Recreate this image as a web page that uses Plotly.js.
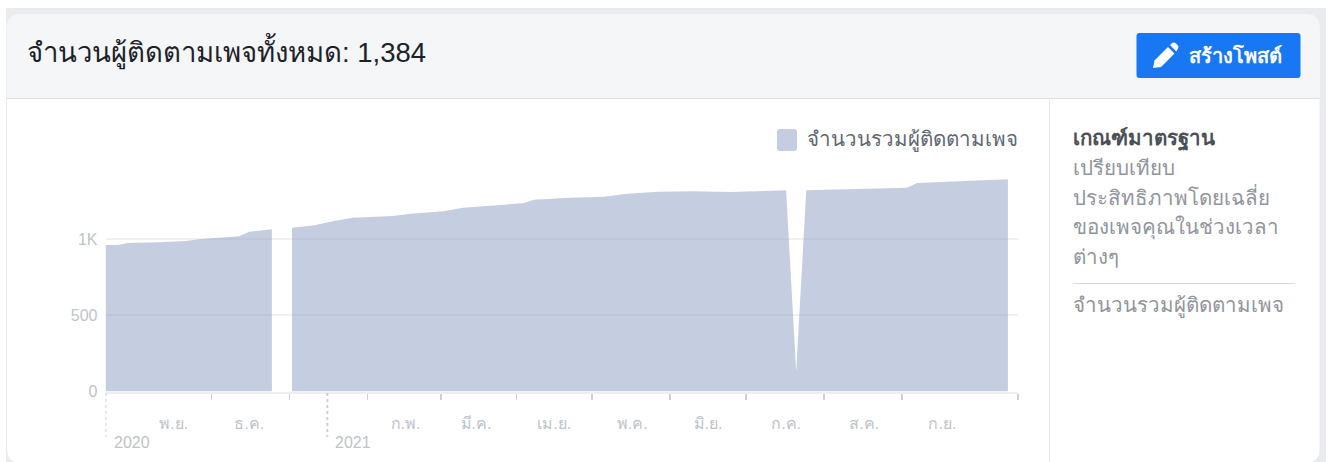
<!DOCTYPE html>
<html>
<head>
<meta charset="utf-8">
<script src="https://cdn.plot.ly/plotly-3.0.1.min.js"></script>
<style>html,body{margin:0;padding:0;background:#fff;overflow:hidden}#c{width:1333px;height:462px}</style>
</head>
<body>
<div id="c"></div>
<script>
// ---- data ----
const datesBeforeGap = ['2020-10-20','2020-10-25','2020-10-29','2020-11-10','2020-11-21','2020-11-26','2020-12-12','2020-12-16','2020-12-25'];
const followersBeforeGap = [962,963,976,980,989,1000,1020,1050,1066];
const datesAfterGap = ['2021-01-02','2021-01-11','2021-01-18','2021-01-26','2021-02-11','2021-02-18','2021-03-03','2021-03-11','2021-04-04','2021-04-08','2021-04-20','2021-05-06','2021-05-14','2021-05-27','2021-06-10','2021-06-25','2021-07-17','2021-07-21','2021-07-25','2021-09-03','2021-09-07','2021-10-13'];
const followersAfterGap = [1076,1092,1118,1142,1153,1168,1184,1208,1238,1260,1271,1280,1298,1313,1315,1311,1322,130,1322,1339,1370,1394];
const monthLabelDates = ['2020-11-16','2020-12-16','2021-02-16','2021-03-16','2021-04-16','2021-05-17','2021-06-16','2021-07-17','2021-08-17','2021-09-17'];
const monthLabels = ['พ.ย.','ธ.ค.','ก.พ.','มี.ค.','เม.ย.','พ.ค.','มิ.ย.','ก.ค.','ส.ค.','ก.ย.'];
const monthTickDates = ['2020-12-01','2021-01-01','2021-02-01','2021-03-02','2021-04-01','2021-05-01','2021-06-01','2021-07-01','2021-08-01','2021-09-01','2021-10-17'];
const yearDates = ['2020-10-20','2021-01-16'];
const yearLabels = ['2020','2021'];
const yTicks = [0,500,1000];
const yTickLabels = ['0','500','1K'];
const xRange = ['2020-10-20','2021-10-17'];
const titleText = 'จำนวนผู้ติดตามเพจทั้งหมด: 1,384';
const buttonText = 'สร้างโพสต์';
const legendText = 'จำนวนรวมผู้ติดตามเพจ';
const sideHead = 'เกณฑ์มาตรฐาน';
const sideLines = ['เปรียบเทียบ','ประสิทธิภาพโดยเฉลี่ย','ของเพจคุณในช่วงเวลา','ต่างๆ'];

// ---- layout helpers ----
const W = 1333, H = 462;
const px = x => x / W, py = y => 1 - y / H;
const FONT = '"Liberation Sans", Arial, "Noto Sans", sans-serif';
const AREA = 'rgba(139,157,195,0.5)';
const rect = (x0, y0, x1, y1, fill) => ({type:'rect',xref:'paper',yref:'paper',x0:px(x0),x1:px(x1),y0:py(y1),y1:py(y0),fillcolor:fill,line:{width:0},layer:'below'});
const pth = (d, fill, layer) => ({type:'path',xref:'paper',yref:'paper',path:d(),fillcolor:fill,line:{width:0},layer:layer||'below'});
const P = (x,y) => px(x)+' '+py(y);
function round(x0,y0,x1,y1,rt,rb){
  return 'M'+P(x0+rt,y0)+' L'+P(x1-rt,y0)+' Q'+P(x1,y0)+' '+P(x1,y0+rt)+' L'+P(x1,y1-rb)+' Q'+P(x1,y1)+' '+P(x1-rb,y1)+' L'+P(x0+rb,y1)+' Q'+P(x0,y1)+' '+P(x0,y1-rb)+' L'+P(x0,y0+rt)+' Q'+P(x0,y0)+' '+P(x0+rt,y0)+' Z';
}
const txt = (x,y,text,size,color,anchor,bold) => ({xref:'paper',yref:'paper',x:px(x-2.5),y:py(y),xanchor:anchor||'left',yanchor:'middle',showarrow:false,text:bold?'<b>'+text+'</b>':text,font:{family:FONT,size:size,color:color}});

const shapes = [
  rect(6,8,1326,462,'#e9ebee'),
  pth(()=>round(7,14,1319.5,463,14,14),'#ffffff'),
  pth(()=>'M'+P(7,98)+' L'+P(7,28)+' Q'+P(7,14)+' '+P(21,14)+' L'+P(1305.5,14)+' Q'+P(1319.5,14)+' '+P(1319.5,28)+' L'+P(1319.5,98)+' Z','#f5f6f7'),
  rect(7,98,1319.5,99,'#dddfe2'),
  rect(1049,99,1050,462,'#e4e6e9'),
  rect(1073,283,1295,284,'#d6d8dc'),
  pth(()=>round(1136.5,33,1300.5,78,3,3),'#1877f2'),
  pth(()=>'M'+P(1153,68)+' L'+P(1154.5,60.5)+' L'+P(1168,47)+' L'+P(1174.5,53.5)+' L'+P(1161,67)+' Z','#ffffff','above'),
  pth(()=>'M'+P(1170,45)+' L'+P(1172.5,42.8)+' Q'+P(1174.5,42)+' '+P(1176,43.5)+' L'+P(1178,45.5)+' Q'+P(1179,47)+' '+P(1178,48.5)+' L'+P(1176.3,51.5)+' Z','#ffffff','above'),
  pth(()=>round(777,129,797,151,3,3),'#c5cee1'),
  ...yearDates.map(d=>({type:'line',xref:'x',yref:'paper',x0:d,x1:d,y0:py(393),y1:py(437),line:{color:'#ccd0d5',width:2,dash:'3px,3px'},layer:'above'}))
];

const annotations = [
  txt(27,52,titleText,27.5,'#1d2129'),
  txt(1189,55,buttonText,20,'#ffffff','left',true),
  txt(807,140,legendText,20.5,'#606770'),
  txt(1073,139,sideHead,20.5,'#4b4f56','left',true),
  ...sideLines.map((t,i)=>txt(1073,[167,197,227,256][i],t,20.5,'#90949c')),
  txt(1073,305,legendText,20.5,'#90949c'),
  ...yearDates.map((d,i)=>({xref:'x',yref:'paper',x:d,y:py(442),xshift:6,xanchor:'left',yanchor:'middle',showarrow:false,text:yearLabels[i],font:{family:FONT,size:16,color:'#bec3c9'}}))
];

const areaTrace = (x,y) => ({x:x,y:y,type:'scatter',mode:'lines',fill:'tozeroy',fillcolor:AREA,line:{width:0,color:AREA},hoverinfo:'skip',showlegend:false});
const yPerPx = 1000/152.2;
const layout = {
  width:W,height:H,autosize:false,margin:{l:0,r:0,t:0,b:0,pad:0},
  paper_bgcolor:'#ffffff',plot_bgcolor:'rgba(0,0,0,0)',showlegend:false,
  xaxis:{type:'date',domain:[px(105.5),px(1018)],range:xRange,fixedrange:true,automargin:false,
    tickmode:'array',tickvals:monthLabelDates,ticktext:monthLabels,ticks:'',ticklen:0,ticklabelstandoff:16,
    tickfont:{family:FONT,size:16,color:'#bec3c9'},showgrid:false,zeroline:false,
    showline:true,linecolor:'#eceef1',linewidth:2,
    minor:{ticks:'outside',tickmode:'array',tickvals:monthTickDates,ticklen:6,tickwidth:1.5,tickcolor:'#ccd0d5',showgrid:false}},
  yaxis:{domain:[py(391.5),py(160)],range:[0,(391.5-160)*yPerPx],fixedrange:true,automargin:false,
    tickmode:'array',tickvals:yTicks,ticktext:yTickLabels,ticks:'',ticklabelstandoff:7,
    tickfont:{family:FONT,size:16,color:'#bec3c9'},showgrid:true,gridcolor:'#eff0f2',gridwidth:2,zeroline:false,showline:false},
  shapes:shapes,annotations:annotations
};
Plotly.newPlot('c',[areaTrace(datesBeforeGap,followersBeforeGap),areaTrace(datesAfterGap,followersAfterGap)],layout,{displayModeBar:false,staticPlot:true});
</script>
</body>
</html>
